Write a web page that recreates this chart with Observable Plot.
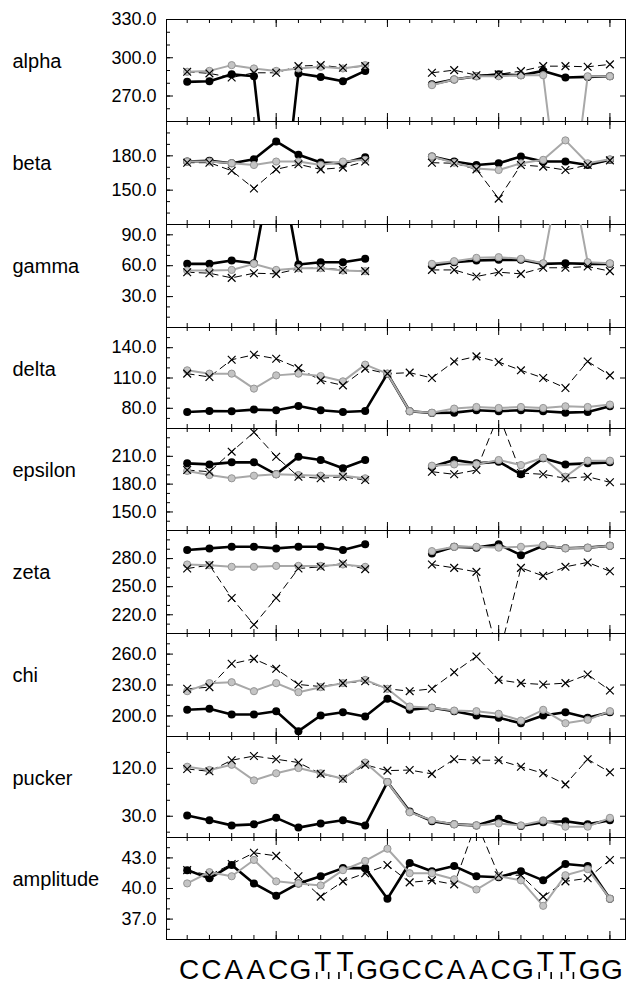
<!DOCTYPE html>
<html><head><meta charset="utf-8">
<script src="https://cdn.jsdelivr.net/npm/d3@7"></script>
<script src="https://cdn.jsdelivr.net/npm/@observablehq/plot@0.6"></script>
<style>
body{margin:0;background:#fff;}
#chart{position:relative;width:626px;height:983px;}
#chart svg{position:absolute;left:0;}
</style></head><body><div id="chart"></div>
<script>
// ---------- data ----------
const positions = [1,2,3,4,5,6,7,8,9,10,11,12,13,14,15,16,17,18,19,20];
const bases = ["C","C","A","A","C","G","T","T","G","G","C","C","A","A","C","G","T","T","G","G"];
const panelNames = ["alpha","beta","gamma","delta","epsilon","zeta","chi","pucker","amplitude"];
const yDomains = [[250,330],[120,210],[0,100],[60,160],[130,240],[200,310],[180,280],[-10,180],[35,45]];
const yTickLabels = [[270,300,330],[150,180],[30,60,90],[80,110,140],[150,180,210],[220,250,280],[200,230,260],[30,120],[37,40,43]];
const yMinorSteps = [10,10,10,10,10,10,10,30,1];

const blackAlpha  = [281.1,281.6,287.1,285.5,130,287.7,285.0,281.6,289.7,null,null,279.3,283.0,285.5,287.0,286.3,289.7,284.5,285.0,285.5];
const grayAlpha   = [289.0,289.7,294.2,291.6,289.7,291.6,292.9,291.6,294.2,null,null,278.5,283.0,285.5,285.5,286.3,286.3,145,285.5,285.5];
const dashedAlpha = [289.0,287.7,284.5,288.2,288.2,293.4,294.2,292.1,293.4,null,null,288.2,290.3,286.3,287.0,289.5,293.4,293.4,292.9,294.8];

const blackBeta  = [175.0,175.6,173.5,177.0,192.6,180.9,174.1,173.5,178.8,null,null,179.4,175.0,172.0,173.5,179.4,175.0,175.0,172.0,176.5];
const grayBeta   = [175.0,175.0,173.5,172.0,175.0,175.0,172.0,175.0,176.5,null,null,179.4,174.0,169.0,167.6,173.5,176.5,193.5,173.5,177.0];
const dashedBeta = [174.0,174.0,167.0,151.5,168.2,172.6,168.2,169.7,175.0,null,null,174.0,173.5,168.2,142.6,172.0,170.6,167.6,172.0,176.0];

const blackGamma  = [61.8,61.8,65.0,62.4,180,61.2,63.4,63.4,66.7,null,null,60.2,63.4,65.0,65.7,65.7,61.8,62.4,61.8,61.8];
const grayGamma   = [55.3,55.3,55.9,61.8,55.9,57.6,57.6,55.3,54.7,null,null,61.8,64.4,67.6,68.3,66.7,62.4,180,63.4,62.4];
const dashedGamma = [53.7,52.7,48.2,52.7,52.1,57.0,58.0,55.9,54.7,null,null,55.9,55.9,49.5,53.7,52.1,58.0,58.0,59.2,54.7];

const blackDelta  = [76.4,77.4,77.1,78.7,78.1,82.3,78.1,76.4,77.4,114.3,77.1,75.4,75.7,78.1,77.1,78.1,77.1,75.7,76.4,82.0];
const grayDelta   = [117.6,114.3,114.3,99.5,112.6,114.3,111.9,106.7,123.2,114.3,77.1,75.7,79.7,81.3,80.3,81.3,80.3,82.0,81.3,83.7];
const dashedDelta = [114.3,111.0,128.1,133.0,129.1,119.8,107.7,102.7,119.2,114.3,115.3,110.0,126.4,131.4,125.8,117.6,110.0,100.1,126.4,112.6];

const blackEpsilon  = [202.4,201.3,203.5,203.5,190.6,209.6,206.0,197.1,206.0,null,null,198.8,206.0,202.4,204.2,190.6,207.8,201.3,202.4,203.5];
const grayEpsilon   = [194.2,189.8,186.3,189.1,190.6,189.8,189.1,189.1,186.3,null,null,199.9,201.3,201.3,206.0,200.6,208.5,188.0,205.3,205.3];
const dashedEpsilon = [195.2,193.4,215.0,235.9,209.6,188.0,186.3,188.0,184.4,null,null,193.4,190.6,195.2,255,192.0,190.6,186.3,188.0,182.0];

const blackZeta  = [289.1,290.9,292.6,292.6,290.9,292.6,292.6,289.1,295.2,null,null,285.5,292.6,291.7,295.2,283.7,293.7,291.0,291.7,293.7];
const grayZeta   = [273.7,273.0,271.2,271.2,272.2,272.2,272.2,273.7,271.2,null,null,288.0,292.6,292.6,291.7,292.6,294.4,291.0,291.7,293.7];
const dashedZeta = [269.4,273.0,237.9,209.4,237.9,269.4,271.2,274.8,268.7,null,null,273.7,270.1,265.8,175,270.1,261.5,271.2,275.9,266.5];

const blackChi  = [205.9,206.9,201.4,201.4,204.6,185.2,200.4,203.6,199.4,216.6,205.9,207.9,204.6,200.4,198.2,192.9,200.4,203.6,198.2,203.6];
const grayChi   = [224.0,231.8,232.7,224.0,231.8,223.0,227.9,231.8,235.0,226.3,209.1,207.9,205.2,204.6,202.0,195.5,205.9,192.9,196.2,204.6];
const dashedChi = [226.3,227.9,250.6,255.4,245.7,230.5,228.5,231.8,233.7,226.3,224.0,226.3,242.4,257.7,235.0,231.8,230.5,231.8,240.2,224.7];

const blackPucker  = [31.2,22.6,12.8,14.7,27.0,8.6,16.5,22.6,12.8,94.3,39.1,20.7,14.7,12.8,25.1,11.5,18.9,20.7,14.7,22.6];
const grayPucker   = [123.1,117.0,126.8,97.4,110.8,120.7,110.8,100.5,131.0,94.3,37.3,22.6,14.7,12.8,16.5,12.8,22.0,10.4,10.4,27.0];
const dashedPucker = [118.9,114.5,135.4,143.3,137.3,131.0,109.7,100.5,126.8,115.8,116.9,109.7,137.3,135.4,135.4,123.1,110.8,90.0,137.3,112.6];

const blackAmplitude  = [41.8,41.0,42.3,40.5,39.3,40.5,41.2,42.0,42.0,39.0,42.5,41.7,42.2,41.2,41.1,41.7,40.8,42.4,42.2,39.0];
const grayAmplitude   = [40.5,41.6,41.2,42.8,40.7,40.5,40.3,41.8,42.7,43.9,41.5,41.5,40.9,39.9,41.2,40.8,38.3,41.3,41.9,39.0];
const dashedAmplitude = [41.8,41.3,42.4,43.5,43.2,41.2,39.2,40.7,41.5,42.3,40.6,40.8,40.4,46.5,41.3,41.3,39.2,40.7,41.0,42.8];

const blackSeries  = [blackAlpha,blackBeta,blackGamma,blackDelta,blackEpsilon,blackZeta,blackChi,blackPucker,blackAmplitude];
const graySeries   = [grayAlpha,grayBeta,grayGamma,grayDelta,grayEpsilon,grayZeta,grayChi,grayPucker,grayAmplitude];
const dashedSeries = [dashedAlpha,dashedBeta,dashedGamma,dashedDelta,dashedEpsilon,dashedZeta,dashedChi,dashedPucker,dashedAmplitude];

// ---------- layout ----------
const W = 626, ML = 166, MR = 1;
const IW = W - ML - MR;
const tops = [19, 121, 224, 327, 428, 530, 633, 736, 837, 939];
const FONT = '"Liberation Sans", Arial, Helvetica, sans-serif';
const chart = document.getElementById("chart");
// vertical-bar symbol for the marks under the T's
const vbar = {draw(context, size) { const l = Math.sqrt(size / Math.PI); context.moveTo(0, -l); context.lineTo(0, l); }};

panelNames.forEach((name, p) => {
  const h = tops[p+1] - tops[p];
  const mt = p === 0 ? 19 : 2;
  const mb = p === panelNames.length - 1 ? 46 : 2;
  const rows = positions.map((x, i) => ({x, black: blackSeries[p][i], gray: graySeries[p][i], dashed: dashedSeries[p][i]}));
  const [y0, y1] = yDomains[p];
  const minor = d3.range(Math.ceil(y0 / yMinorSteps[p]) * yMinorSteps[p], y1 + 1e-9, yMinorSteps[p]);
  const majors = yTickLabels[p];
  const xLong = positions.filter(d => d % 5 === 0);
  const marks = [
    Plot.frame({stroke: "black", strokeWidth: 1}),
    Plot.tickX(positions, {x: d => d, insetBottom: h - 4, stroke: "black"}),
    Plot.tickX(positions, {x: d => d, insetTop: h - 4, stroke: "black"}),
    Plot.tickX(xLong, {x: d => d, insetBottom: h - 8, stroke: "black"}),
    Plot.tickX(xLong, {x: d => d, insetTop: h - 8, stroke: "black"}),
    Plot.tickY(minor, {y: d => d, insetRight: IW - 4, stroke: "black"}),
    Plot.tickY(majors, {y: d => d, insetRight: IW - 7, stroke: "black"}),
    Plot.tickY(majors, {y: d => d, insetLeft: IW - 5, stroke: "black"}),
    Plot.line(rows, {x: "x", y: "dashed", stroke: "black", strokeWidth: 1, strokeDasharray: "7,5", clip: true}),
    Plot.line(rows, {x: "x", y: "black", stroke: "black", strokeWidth: 2.6, clip: true}),
    Plot.dot(rows, {x: "x", y: "black", r: 4, fill: "black", clip: true}),
    Plot.line(rows, {x: "x", y: "gray", stroke: "#a8a8a8", strokeWidth: 2, clip: true}),
    Plot.dot(rows, {x: "x", y: "gray", r: 3.6, fill: "#c4c4c4", stroke: "#959595", strokeWidth: 1, clip: true}),
    Plot.dot(rows, {x: "x", y: "dashed", symbol: "times", r: 3.6, stroke: "black", strokeWidth: 1.2, clip: true}),
    Plot.text([name], {text: d => d, frameAnchor: "top-left", dx: -(ML - 12), dy: 42, textAnchor: "start", lineAnchor: "middle", fontSize: 20, fill: "black"})
  ];
  if (p === panelNames.length - 1) {
    marks.push(
      Plot.text(bases, {x: (d, i) => positions[i], text: d => d, filter: d => d !== "T", frameAnchor: "bottom", lineAnchor: "bottom", dy: 39, dx: 2, fontSize: 28, fill: "black"}),
      Plot.text(bases, {x: (d, i) => positions[i], text: d => d, filter: d => d === "T", frameAnchor: "bottom", lineAnchor: "bottom", dy: 31, dx: 2, fontSize: 28, fill: "black"}),
      Plot.dot(bases, {x: (d, i) => positions[i], filter: d => d === "T", frameAnchor: "bottom", dy: 36, dx: -4, symbol: vbar, r: 3.5, stroke: "black", strokeWidth: 1.6}),
      Plot.dot(bases, {x: (d, i) => positions[i], filter: d => d === "T", frameAnchor: "bottom", dy: 36, dx: 8, symbol: vbar, r: 3.5, stroke: "black", strokeWidth: 1.6})
    );
  }
  const svg = Plot.plot({
    width: W, height: mt + h + mb,
    marginLeft: ML, marginRight: MR, marginTop: mt, marginBottom: mb,
    style: {background: "transparent", overflow: "visible", fontFamily: FONT, fontSize: "18px", color: "black"},
    x: {domain: [0.07, 20.7], axis: null},
    y: {domain: yDomains[p], ticks: majors, tickFormat: d => d.toFixed(1), tickSize: 0, tickPadding: 10, label: null},
    marks
  });
  svg.style.top = (tops[p] - mt) + "px";
  chart.appendChild(svg);
});
</script></body></html>
